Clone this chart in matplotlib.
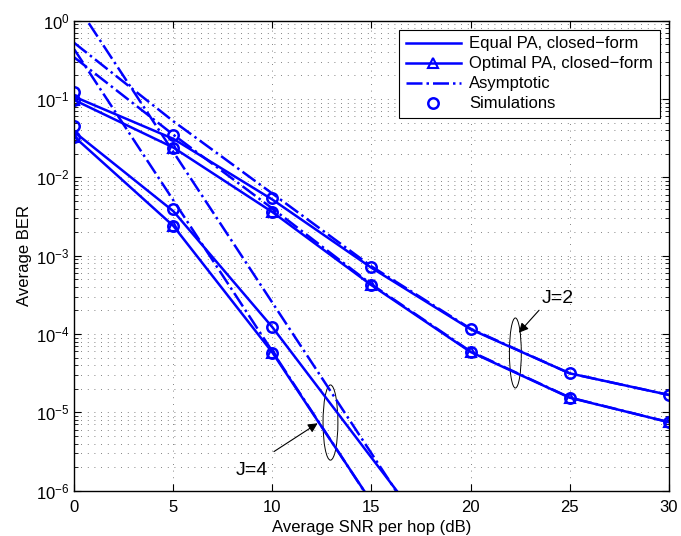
import numpy as np
import matplotlib
matplotlib.use("Agg")
from matplotlib import pyplot as plt
from matplotlib.patches import Ellipse
from matplotlib.ticker import NullFormatter

plt.rcParams['font.family'] = ['Liberation Sans', 'DejaVu Sans']
plt.rcParams['font.size'] = 12

snr = [0, 5, 10, 15, 20, 25, 30]
snr4 = [0, 5, 10, 15, 20]

# J=2 curves
eq2 = [0.107, 0.031, 0.0052, 7.0e-4, 1.15e-4, 3.15e-5, 1.67e-5]
opt2 = [0.097, 0.024, 0.0036, 4.2e-4, 5.9e-5, 1.54e-5, 7.5e-6]
eq2_asym = [0.52, 0.052, 0.0062, 7.3e-4, 1.17e-4, 3.15e-5, 1.67e-5]
opt2_asym = [0.34, 0.035, 0.0040, 4.3e-4, 6.0e-5, 1.55e-5, 7.5e-6]
eq2_sim = [0.124, 0.0348, 0.0054, 7.1e-4, 1.15e-4, 3.16e-5, 1.67e-5]

# J=4 curves
eq4 = [0.038, 0.0037, 1.22e-4, 2.64e-6, 5.8e-8]
opt4 = [0.033, 0.0024, 5.8e-5, 7.2e-7, 8.0e-9]
eq4_asym = [1.78, 0.0211, 2.51e-4, 2.99e-6, 3.5e-8]
opt4_asym = [0.43, 0.0051, 6.0e-5, 7.1e-7, 8.5e-9]
eq4_sim = [0.045, 0.0040, 1.22e-4]
snr4_sim = [0, 5, 10]

blue = (0, 0, 1)
lw = 1.8
ms = 7.5

fig = plt.figure(figsize=(6.81, 5.36), dpi=100)
ax = fig.add_axes([0.109, 0.0845, 0.873, 0.877])

ax.semilogy(snr, eq2, '-', color=blue, lw=lw, label='Equal PA, closed\u2212form')
ax.semilogy(snr, opt2, '-^', color=blue, lw=lw, ms=ms, mfc='none', mew=1.5,
            label='Optimal PA, closed\u2212form')
ax.semilogy(snr, eq2_asym, '-.', color=blue, lw=lw, label='Asymptotic')
ax.semilogy(snr, eq2_sim, 'o', color=blue, ms=ms, mfc='none', mew=1.8, label='Simulations')
ax.semilogy(snr, opt2_asym, '-.', color=blue, lw=lw)
ax.semilogy(snr, opt2, 'o', color=blue, ms=ms, mfc='none', mew=1.8)

ax.semilogy(snr4, eq4, '-', color=blue, lw=lw)
ax.semilogy(snr4, opt4, '-^', color=blue, lw=lw, ms=ms, mfc='none', mew=1.5, markevery=[0, 1, 2])
ax.semilogy(snr4, eq4_asym, '-.', color=blue, lw=lw)
ax.semilogy(snr4, opt4_asym, '-.', color=blue, lw=lw)
ax.semilogy(snr4_sim, eq4_sim, 'o', color=blue, ms=ms, mfc='none', mew=1.8)
ax.semilogy(snr4_sim, opt4[:3], 'o', color=blue, ms=ms, mfc='none', mew=1.8)

ax.set_xlim(0, 30)
ax.set_ylim(1e-6, 1)
ax.set_xticks([0, 5, 10, 15, 20, 25, 30])
ax.yaxis.set_minor_formatter(NullFormatter())
ax.set_xlabel('Average SNR per hop (dB)', labelpad=3)
ax.set_ylabel('Average BER', labelpad=3)
ax.tick_params(which='both', direction='in', top=True, right=True, labelsize=12)
ax.tick_params(axis='x', pad=7)
ax.tick_params(which='major', length=5)
ax.tick_params(which='minor', length=3)
grid_style = dict(ls=(0, (1, 7)), color='0.35', lw=0.6)
ax.grid(True, which='major', **grid_style)
ax.grid(True, which='minor', axis='y', **grid_style)
for s in ax.spines.values():
    s.set_linewidth(1.0)

leg = ax.legend(loc='upper right', fontsize=12, fancybox=False, edgecolor='k',
                framealpha=1, handlelength=3.3, handletextpad=0.5, borderpad=0.4,
                borderaxespad=0.55, labelspacing=0.3)
leg.get_frame().set_linewidth(0.8)

# group markers
ax.add_patch(Ellipse((0.742, 0.293), 0.020, 0.149, transform=ax.transAxes,
                     fill=False, lw=0.7, color='k'))
ax.add_patch(Ellipse((0.431, 0.145), 0.025, 0.160, transform=ax.transAxes,
                     fill=False, lw=0.7, color='k'))
arrow = dict(arrowstyle='-|>', color='k', lw=0.8, mutation_scale=14)
ax.annotate('', xy=(22.34, 10 ** -4.01), xytext=(23.55, 10 ** -3.67), arrowprops=arrow)
ax.text(24.4, 10 ** -3.55, 'J=2', fontsize=14, ha='center', va='center')
ax.annotate('', xy=(12.4, 10 ** -5.12), xytext=(9.96, 10 ** -5.52), arrowprops=arrow)
ax.text(8.97, 10 ** -5.74, 'J=4', fontsize=14, ha='center', va='center')

plt.savefig('out.png', dpi=100)
